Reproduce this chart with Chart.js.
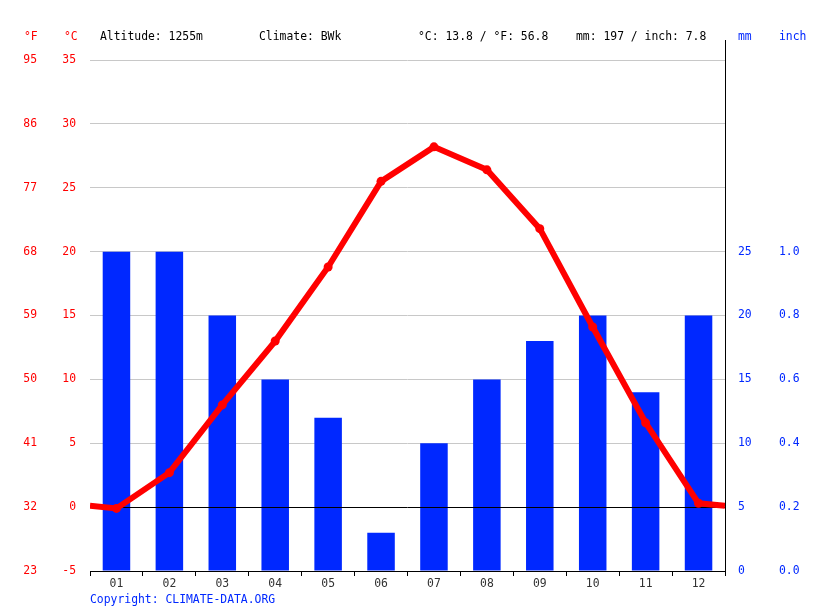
<!DOCTYPE html>
<html>
<head>
<meta charset="utf-8">
<script src="https://cdn.jsdelivr.net/npm/chart.js"></script>
<style>
 body{margin:0;background:#fff;}
 #wrap{position:relative;width:815px;height:611px;font-family:"DejaVu Sans Mono",monospace;font-size:11.4px;}
 #wrap canvas{position:absolute;left:0;top:0;}
 .t{position:absolute;top:29px;line-height:14px;white-space:pre;color:#000;}
 .red{color:#ff0000;}
 .blue{color:#0028ff;}
</style>
</head>
<body>
<div id="wrap">
 <canvas id="chart" width="815" height="611"></canvas>
 <span class="t red" style="left:24px">°F</span>
 <span class="t red" style="left:64px">°C</span>
 <span class="t" style="left:100px">Altitude: 1255m</span>
 <span class="t" style="left:259px">Climate: BWk</span>
 <span class="t" id="tempInfo" style="left:418px"></span>
 <span class="t" id="rainInfo" style="left:576px"></span>
 <span class="t blue" style="left:738px">mm</span>
 <span class="t blue" style="left:779px">inch</span>
 <span class="t blue" style="left:90px;top:592px">Copyright: CLIMATE-DATA.ORG</span>
</div>
<script>
const months = ["01","02","03","04","05","06","07","08","09","10","11","12"];
const tempC = [-0.1, 2.7, 8.0, 13.0, 18.8, 25.5, 28.2, 26.4, 21.8, 14.1, 6.6, 0.3];
const rainMm = [25, 25, 20, 15, 12, 3, 10, 15, 18, 20, 14, 20];
// where the temperature line meets the left and right edge of the plot
const edgeTempC = [0.1, 0.1];
const mmTicks = [0, 5, 10, 15, 20, 25];
const inchLabels = ["0.0","0.2","0.4","0.6","0.8","1.0"];

const FONT = {family:"DejaVu Sans Mono", size:11.4};
const RED = "#ff0000";
const BLUE = "#0028ff";

let meanC = tempC.reduce((a,b)=>a+b,0)/tempC.length;
let sumMm = rainMm.reduce((a,b)=>a+b,0);
document.getElementById("tempInfo").textContent =
  "°C: " + meanC.toFixed(1) + " / °F: " + (meanC*1.8+32).toFixed(1);
document.getElementById("rainInfo").textContent =
  "mm: " + sumMm + " / inch: " + (sumMm/25.4).toFixed(1);

// line points: edge, 12 months, edge
let linePts = [{x:0.5, y:edgeTempC[0]}];
tempC.forEach((t,i)=>linePts.push({x:i+1, y:t}));
linePts.push({x:12.5, y:edgeTempC[1]});

const extras = {
  id:"extras",
  beforeDatasetDraw(chart, args){
    if(args.meta.type !== "line") return;
    const c = chart.ctx, a = chart.chartArea;
    const y = Math.round(chart.scales.yC.getPixelForValue(0)) + 0.5;
    c.save();
    c.strokeStyle = "#000";
    c.lineWidth = 1;
    c.beginPath();
    c.moveTo(a.left, y);
    c.lineTo(a.right, y);
    c.stroke();
    c.restore();
  },
  afterDraw(chart){
    const c = chart.ctx;
    const x = Math.round(chart.scales.mm.left) + 0.5;
    c.save();
    c.strokeStyle = "#000";
    c.lineWidth = 1;
    c.beginPath();
    c.moveTo(x, 40);
    c.lineTo(x, chart.chartArea.top);
    c.stroke();
    c.restore();
  }
};

new Chart(document.getElementById("chart"),{
  data:{
    labels: months,
    datasets:[
      {
        type:"line",
        data: linePts,
        xAxisID:"x2",
        yAxisID:"yC",
        borderColor:RED,
        backgroundColor:RED,
        borderWidth:6,
        pointRadius: ctx => (ctx.dataIndex===0 || ctx.dataIndex===linePts.length-1) ? 0 : 4.5,
        pointBorderWidth:0,
        tension:0,
        order:1
      },
      {
        type:"bar",
        data: rainMm,
        xAxisID:"x",
        yAxisID:"mm",
        backgroundColor:BLUE,
        grouped:false,
        barPercentage:0.52,
        categoryPercentage:1,
        order:2
      }
    ]
  },
  options:{
    responsive:false,
    animation:false,
    devicePixelRatio:1,
    layout:{padding:{top:60}},
    plugins:{legend:{display:false}, tooltip:{enabled:false}},
    scales:{
      x:{
        type:"category",
        offset:true,
        grid:{drawOnChartArea:false, offset:true, tickLength:5, color:"#000"},
        border:{color:"#000"},
        ticks:{color:"#333", font:FONT, padding:1},
        afterFit(s){ s.height = 40; }
      },
      x2:{
        type:"linear",
        display:false,
        min:0.5,
        max:12.5
      },
      yC:{
        position:"left",
        weight:1,
        min:-5, max:35,
        ticks:{stepSize:5, color:RED, font:FONT, padding:14},
        grid:{
          drawTicks:false,
          color: ctx => ctx.tick && ctx.tick.value===0 ? "rgba(0,0,0,0)" : "#c8c8c8"
        },
        border:{display:false},
        afterFit(s){ s.width = 45; }
      },
      yF:{
        position:"left",
        weight:2,
        min:23, max:95,
        ticks:{stepSize:9, color:RED, font:FONT, padding:8},
        grid:{display:false, drawTicks:false},
        border:{display:false},
        afterFit(s){ s.width = 45; }
      },
      mm:{
        position:"right",
        weight:1,
        min:0, max:40,
        afterBuildTicks(s){ s.ticks = mmTicks.map(v=>({value:v})); },
        ticks:{color:BLUE, font:FONT, padding:13},
        grid:{drawOnChartArea:false, drawTicks:false},
        border:{display:true, color:"#000"},
        afterFit(s){ s.width = 45; }
      },
      inch:{
        position:"right",
        weight:2,
        min:0, max:40,
        afterBuildTicks(s){ s.ticks = mmTicks.map(v=>({value:v})); },
        ticks:{color:BLUE, font:FONT, padding:9, callback:(v,i)=>inchLabels[i]},
        grid:{display:false, drawTicks:false},
        border:{display:false},
        afterFit(s){ s.width = 45; }
      }
    }
  },
  plugins:[extras]
});
</script>
</body>
</html>
